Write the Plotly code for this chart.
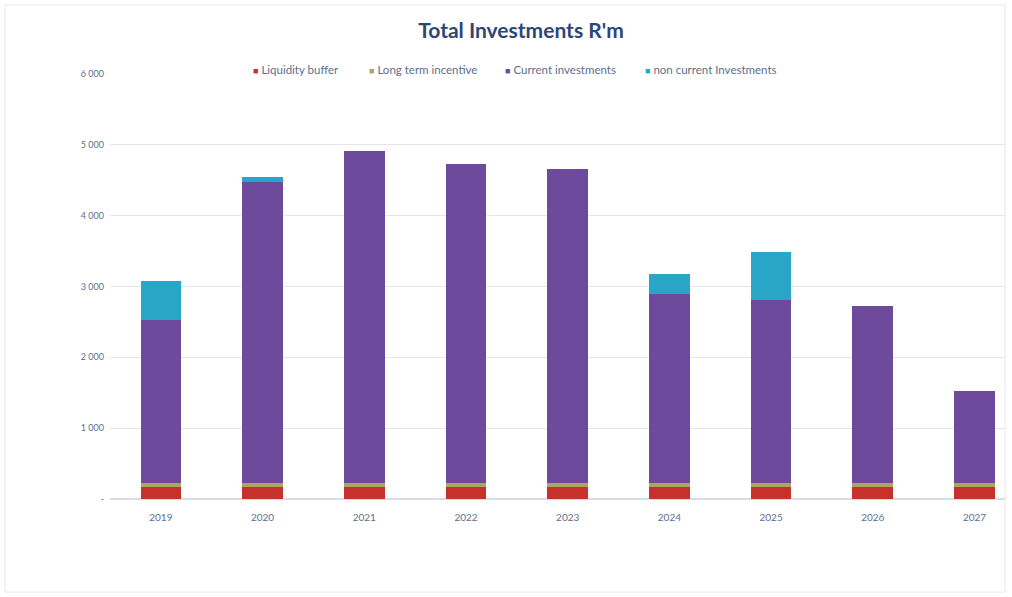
import plotly.graph_objects as go

years = ["2019", "2020", "2021", "2022", "2023", "2024", "2025", "2026", "2027"]
liquidity_buffer = [170, 170, 170, 170, 170, 170, 170, 170, 170]
long_term_incentive = [60, 60, 60, 60, 60, 60, 60, 60, 60]
current_investments = [2300, 4240, 4680, 4500, 4430, 2660, 2580, 2500, 1290]
non_current_investments = [550, 75, 0, 0, 0, 285, 675, 0, 0]

y_ticks = [0, 1000, 2000, 3000, 4000, 5000, 6000]
y_tick_labels = ["-", "1 000", "2 000", "3 000", "4 000", "5 000", "6 000"]

W, H = 1012, 597
L, R, T, B = 110, 7, 74, 98
plot_w = W - L - R
plot_h = H - T - B

series = [
    ("Liquidity buffer", liquidity_buffer, "#c8302c"),
    ("Long term incentive", long_term_incentive, "#a8a660"),
    ("Current investments", current_investments, "#6d4a9c"),
    ("non current Investments", non_current_investments, "#29a5c7"),
]

fig = go.Figure()
for name, vals, col in series:
    fig.add_trace(go.Bar(
        x=years, y=vals, name=name, width=0.4,
        marker=dict(color=col, line=dict(width=0)),
    ))

font_family = "Lato, 'Open Sans', sans-serif"
tick_color = "#5d6f8c"

# compact legend row: small coloured square followed by the series name
legend_left_px = [251, 367, 503, 643]
for (name, _, col), lx in zip(series, legend_left_px):
    fig.add_annotation(
        xref="paper", yref="paper",
        x=(lx - L) / plot_w, xanchor="left",
        y=1 + 5 / plot_h, yanchor="middle",
        text=f"<span style='color:{col};font-size:9px'>■</span> {name}",
        showarrow=False,
        font=dict(family=font_family, size=11.5, color="#5d6f8c"),
    )

fig.update_layout(
    width=W, height=H,
    barmode="stack",
    paper_bgcolor="white", plot_bgcolor="white",
    margin=dict(l=L, r=R, t=T, b=B, autoexpand=False),
    title=dict(
        text="<b>Total Investments R'm</b>",
        x=521 / W, xanchor="center", xref="container",
        y=1 - 31 / H, yanchor="middle", yref="container",
        font=dict(family=font_family, size=21, color="#2e4677"),
    ),
    showlegend=False,
    xaxis=dict(
        type="category",
        range=[-0.5, 8.3],
        showgrid=False, showline=False, ticks="",
        tickfont=dict(family=font_family, size=10, color=tick_color),
        ticklabelstandoff=11,
    ),
    yaxis=dict(
        range=[0, 6000],
        tickvals=y_ticks, ticktext=y_tick_labels,
        showgrid=True, gridcolor="#e4e6ea", gridwidth=1,
        zeroline=True, zerolinecolor="#d9dce2",
        showline=False, ticks="",
        tickfont=dict(family=font_family, size=9, color=tick_color),
        ticklabelstandoff=5,
    ),
    font=dict(family=font_family),
)

# faint outer frame of the chart area
fig.add_shape(
    type="rect", xref="paper", yref="paper",
    x0=(5 - L) / plot_w, x1=(W - 7 - L) / plot_w,
    y0=1 - (592 - T) / plot_h, y1=1 + (T - 5) / plot_h,
    line=dict(color="#e8e8e8", width=1), layer="below",
)

fig.write_html("out.html")
